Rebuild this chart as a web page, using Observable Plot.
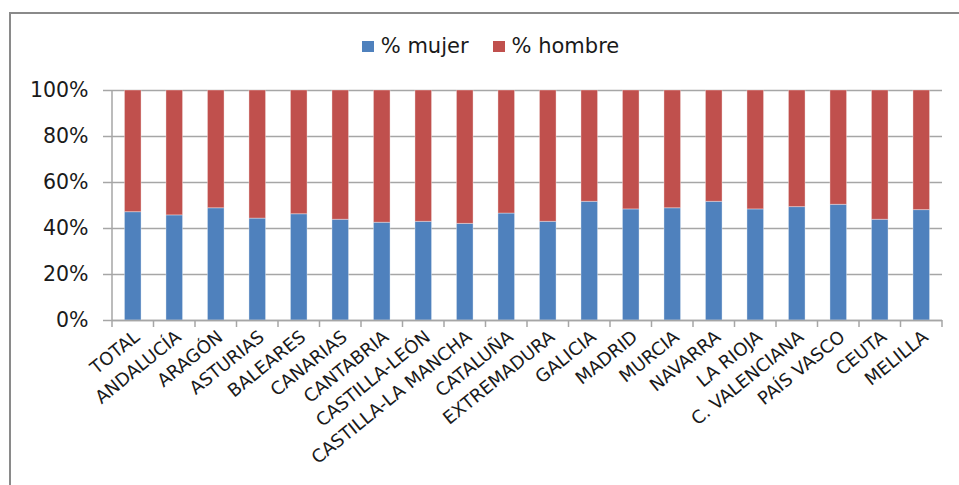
<!DOCTYPE html>
<html>
<head>
<meta charset="utf-8">
<script src="https://cdn.jsdelivr.net/npm/d3@7"></script>
<script src="https://cdn.jsdelivr.net/npm/@observablehq/plot@0.6"></script>
<style>
  html, body { margin: 0; padding: 0; background: #fff; width: 959px; height: 485px; overflow: hidden; }
  #wrap { position: relative; width: 959px; height: 485px; }
  #frame { position: absolute; left: 9px; top: 12px; width: 960px; height: 480px;
           border-left: 2px solid #8a8a8a; border-top: 2px solid #8a8a8a; box-sizing: border-box; }
  #chart { position: absolute; left: 0; top: 0; }
  #legend { position: absolute; top: 34px; left: 0; width: 959px; display: flex; justify-content: center;
            font-family: "DejaVu Sans", sans-serif; font-size: 21px; color: #1a1a1a; padding-left: 22px; box-sizing: border-box; }
  .item { display: flex; align-items: center; margin: 0 12px; }
  .sw { width: 12px; height: 11px; margin-right: 7px; display: inline-block; }
</style>
</head>
<body>
<div id="wrap">
  <div id="frame"></div>
  <div id="chart"></div>
  <div id="legend"></div>
</div>
<script>
const categories = ["TOTAL","ANDALUCÍA","ARAGÓN","ASTURIAS","BALEARES","CANARIAS","CANTABRIA","CASTILLA-LEÓN","CASTILLA-LA MANCHA","CATALUÑA","EXTREMADURA","GALICIA","MADRID","MURCIA","NAVARRA","LA RIOJA","C. VALENCIANA","PAÍS VASCO","CEUTA","MELILLA"];
const mujer  = [47.1, 45.7, 48.8, 44.3, 46.2, 43.8, 42.5, 42.9, 42.0, 46.5, 42.9, 51.6, 48.3, 48.8, 51.6, 48.3, 49.3, 50.3, 43.8, 48.0];
const hombre = [52.9, 54.3, 51.2, 55.7, 53.8, 56.2, 57.5, 57.1, 58.0, 53.5, 57.1, 48.4, 51.7, 51.2, 48.4, 51.7, 50.7, 49.7, 56.2, 52.0];
const seriesNames = ["% mujer", "% hombre"];
const seriesColors = ["#4F81BD", "#C0504D"];
const yTicks = [0, 20, 40, 60, 80, 100];

const rows = [];
categories.forEach((c, i) => {
  rows.push({cat: c, series: seriesNames[0], value: mujer[i]});
  rows.push({cat: c, series: seriesNames[1], value: hombre[i]});
});

// y axis line and category boundary ticks on the x axis
function axisLines(index, scales, values, dimensions) {
  const x = scales.x;
  const step = x(categories[1]) - x(categories[0]);
  const bw = x.bandwidth ? x.bandwidth() : 0;
  const y0 = dimensions.height - dimensions.marginBottom;
  const g = d3.create("svg:g");
  g.append("line").attr("x1", dimensions.marginLeft).attr("x2", dimensions.marginLeft)
    .attr("y1", dimensions.marginTop).attr("y2", y0)
    .attr("stroke", "#a6a6a6").attr("stroke-width", 1.5);
  const xs = categories.map(c => x(c) + bw / 2 - step / 2);
  xs.push(x(categories[categories.length - 1]) + bw / 2 + step / 2);
  xs.forEach(px => {
    g.append("line").attr("x1", px).attr("x2", px).attr("y1", y0).attr("y2", y0 + 7)
      .attr("stroke", "#a6a6a6").attr("stroke-width", 1.5);
  });
  return g.node();
}

const chart = Plot.plot({
  width: 959,
  height: 485,
  marginLeft: 112,
  marginRight: 17,
  marginTop: 90,
  marginBottom: 165,
  style: { fontFamily: "DejaVu Sans, sans-serif", color: "#1a1a1a", background: "transparent" },
  x: { domain: categories, paddingInner: 0.6, paddingOuter: 0.3, round: false, label: null },
  y: { domain: [0, 100], label: null },
  color: { domain: seriesNames, range: seriesColors },
  marks: [
    Plot.gridY(yTicks, { stroke: "#a6a6a6", strokeOpacity: 1, strokeWidth: 1.5 }),
    Plot.barY(rows, Plot.stackY({ x: "cat", y: "value", fill: "series", order: seriesNames,
      stroke: "#ffffff", strokeOpacity: 0.35, strokeWidth: 1 })),
    Plot.ruleY([0], { stroke: "#a6a6a6", strokeWidth: 1.5 }),
    Plot.axisY({ ticks: yTicks, tickFormat: d => d + "%", tickSize: 9, tickPadding: 15,
      fontSize: 20.5, stroke: "#a6a6a6", strokeWidth: 1.5, strokeOpacity: 1 }),
    Plot.axisX({ tickSize: 0, tickRotate: -39, tickPadding: 14, dx: 4, fontSize: 18 }),
    axisLines
  ]
});
document.getElementById("chart").appendChild(chart);
</script>
<script>
const leg = document.getElementById("legend");
seriesNames.forEach((n, i) => {
  const it = document.createElement("div");
  it.className = "item";
  const sw = document.createElement("span");
  sw.className = "sw"; sw.style.background = seriesColors[i];
  const t = document.createElement("span");
  t.textContent = n;
  it.appendChild(sw); it.appendChild(t);
  leg.appendChild(it);
});
</script>
</body>
</html>
